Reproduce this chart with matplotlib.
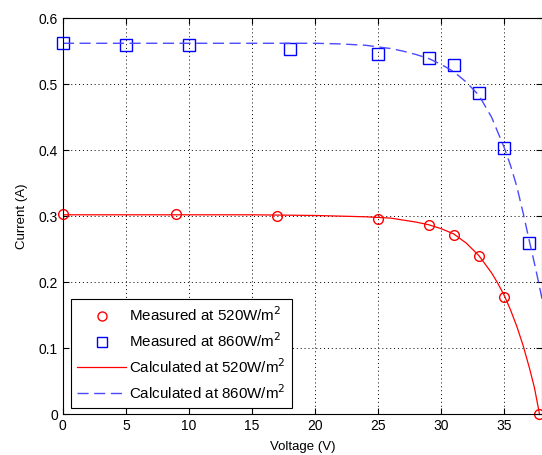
import numpy as np
import matplotlib.pyplot as plt

plt.rcParams['font.family'] = ['Liberation Sans', 'DejaVu Sans']

# measured points
v_520 = [0, 9, 17, 25, 29, 31, 33, 35, 37.8]
i_520 = [0.303, 0.303, 0.300, 0.295, 0.287, 0.272, 0.240, 0.178, 0.0]
v_860 = [0, 5, 10, 18, 25, 29, 31, 33, 35, 37]
i_860 = [0.562, 0.560, 0.559, 0.553, 0.546, 0.539, 0.529, 0.487, 0.404, 0.260]

# calculated curves
vc_520 = [0, 5, 10, 15, 20, 22, 24, 26, 27, 28, 29, 30, 31, 32, 33, 34, 34.5,
          35, 35.5, 36, 36.5, 37, 37.4, 37.8]
ic_520 = [0.302, 0.302, 0.302, 0.302, 0.301, 0.300, 0.299, 0.297, 0.294, 0.291,
          0.287, 0.281, 0.273, 0.259, 0.240, 0.214, 0.198, 0.180, 0.158, 0.133,
          0.104, 0.070, 0.040, 0.0]
vc_860 = [0, 5, 10, 15, 20, 22, 24, 26, 27, 28, 29, 30, 31, 32, 33, 34, 35,
          35.5, 36, 36.5, 37, 37.5, 38, 38.5]
ic_860 = [0.562, 0.562, 0.562, 0.562, 0.562, 0.561, 0.559, 0.554, 0.550, 0.545,
          0.539, 0.530, 0.519, 0.503, 0.483, 0.450, 0.404, 0.377, 0.345, 0.305,
          0.262, 0.220, 0.175, 0.12]

fig = plt.figure(figsize=(5.42, 4.55), dpi=100)
ax = fig.add_axes([0.116, 0.090, 0.884, 0.870])

ax.plot(v_520, i_520, 'o', mfc='none', mec='#ff0000', ms=7, mew=1.0,
        label='Measured at 520W/m$^2$', clip_on=False)
ax.plot(v_860, i_860, 's', mfc='none', mec='#0000ff', ms=8, mew=1.0,
        label='Measured at 860W/m$^2$', clip_on=False)
ax.plot(vc_520, ic_520, '-', color='#ff0000', lw=0.9,
        label='Calculated at 520W/m$^2$')
ax.plot(vc_860, ic_860, '--', color='#4a4aff', lw=1.0, dashes=(8, 4),
        label='Calculated at 860W/m$^2$')

ax.set_xlim(0, 38)
ax.set_ylim(0, 0.6)
ax.set_xticks([0, 5, 10, 15, 20, 25, 30, 35])
ax.set_yticks([0, 0.1, 0.2, 0.3, 0.4, 0.5, 0.6])
ax.set_yticklabels(['0', '0.1', '0.2', '0.3', '0.4', '0.5', '0.6'])
ax.tick_params(direction='in', labelsize=10, length=4, top=True, right=True)
ax.grid(True, linestyle=(0, (1, 3)), color='black', lw=0.7)
for s in ax.spines.values():
    s.set_color('black')

ax.set_xlabel('Voltage (V)', fontsize=9.5, labelpad=6)
ax.set_ylabel('Current (A)', fontsize=9.5, labelpad=8)

leg = ax.legend(loc='lower left', bbox_to_anchor=(0.017, 0.015), fontsize=10.9,
                handlelength=3.2, fancybox=False, framealpha=1,
                edgecolor='black', borderpad=0.42, labelspacing=0.48,
                handletextpad=0.2, borderaxespad=0)
leg.get_frame().set_linewidth(0.8)
for h in leg.legend_handles[:2]:
    h.set_markersize(6.5)

fig.savefig('out.png', dpi=100)
